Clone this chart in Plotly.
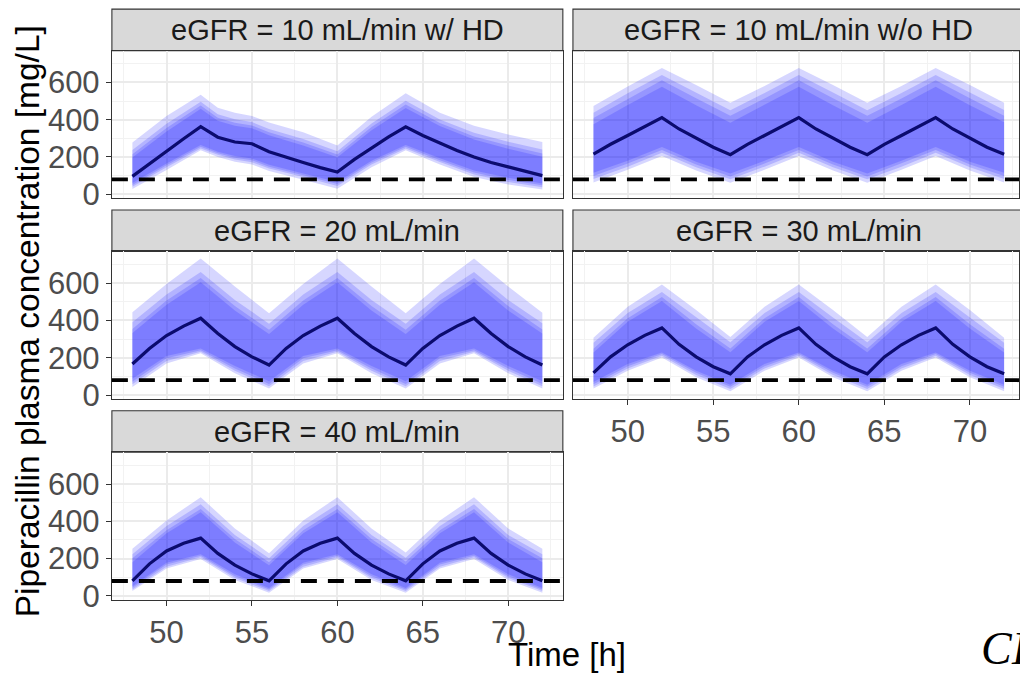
import plotly.graph_objects as go

# ---------------- data ----------------
panel_titles = ["eGFR = 10 mL/min w/ HD", "eGFR = 10 mL/min w/o HD",
                "eGFR = 20 mL/min", "eGFR = 30 mL/min", "eGFR = 40 mL/min"]
target_conc = 80  # mg/L dashed reference line

time_hourly = list(range(48, 73))
time_hd = [48, 50, 52, 53, 54, 55, 56, 58, 60, 62, 64, 66, 68, 70, 72]
time_std = [48, 50, 52, 54, 56, 58, 60, 62, 64, 66, 68, 70, 72]

# medians (hourly, 48..72 h)
hd_med = [96, 165, 229, 298, 362, 306, 280, 271, 228, 198, 170, 143, 119,
          187, 250, 308, 362, 315, 275, 235, 200, 170, 147, 122, 100]
nohd_med = [215, 268, 315, 365, 411, 350, 300, 252, 212, 268, 315, 365, 411,
            350, 300, 252, 212, 268, 315, 365, 411, 350, 300, 252, 215]
e20_med = [167, 250, 319, 370, 412, 330, 260, 205, 161, 250, 319, 370, 412,
           330, 260, 205, 161, 250, 319, 370, 412, 330, 260, 205, 161]
e30_med = [119, 205, 270, 320, 360, 272, 205, 152, 114, 205, 270, 320, 360,
           272, 205, 152, 114, 205, 270, 320, 360, 272, 205, 152, 114]
e40_med = [81, 172, 241, 282, 310, 228, 165, 118, 81, 172, 241, 282, 310,
           228, 165, 118, 81, 172, 241, 282, 310, 228, 165, 118, 81]

# eGFR 10 with HD: prediction bands (outer 1 -> inner 4)
hd_u1 = [277, 420, 534, 464, 437, 420, 385, 332, 262, 416, 542, 437, 367, 320, 280]
hd_u2 = [237, 378, 496, 429, 402, 387, 350, 296, 231, 379, 502, 401, 330, 282, 240]
hd_u3 = [215, 355, 476, 410, 384, 369, 332, 277, 213, 360, 481, 382, 310, 261, 219]
hd_u4 = [197, 336, 458, 394, 368, 354, 316, 261, 199, 343, 463, 366, 294, 244, 201]
hd_l4 = [60, 165, 264, 228, 205, 192, 158, 112, 66, 180, 264, 193, 128, 88, 58]
hd_l3 = [50, 155, 255, 220, 196, 182, 148, 102, 55, 170, 255, 183, 117, 77, 48]
hd_l2 = [40, 145, 246, 212, 187, 172, 138, 92, 44, 160, 246, 173, 106, 66, 38]
hd_l1 = [28, 130, 236, 200, 175, 160, 125, 78, 30, 145, 236, 160, 92, 52, 25]

# eGFR 10 without HD
nohd_u1 = [473, 578, 677, 586, 490, 580, 677, 586, 490, 580, 677, 586, 490]
nohd_u2 = [437, 541, 640, 546, 451, 543, 640, 546, 451, 543, 640, 546, 452]
nohd_u3 = [409, 512, 611, 515, 421, 514, 611, 515, 421, 514, 611, 515, 421]
nohd_u4 = [375, 478, 576, 477, 384, 479, 576, 477, 384, 479, 576, 477, 386]
nohd_l4 = [115, 180, 254, 175, 112, 180, 254, 175, 112, 180, 254, 175, 115]
nohd_l3 = [98, 165, 238, 160, 95, 165, 238, 160, 95, 165, 238, 160, 98]
nohd_l2 = [82, 148, 222, 145, 80, 148, 222, 145, 80, 148, 222, 145, 82]
nohd_l1 = [63, 131, 205, 128, 62, 131, 205, 128, 62, 131, 205, 128, 63]

# eGFR 20
e20_u1 = [444, 596, 733, 582, 439, 596, 733, 582, 439, 596, 733, 582, 442]
e20_u2 = [390, 540, 660, 510, 383, 540, 660, 510, 383, 540, 660, 510, 385]
e20_u3 = [355, 507, 628, 478, 350, 507, 628, 478, 350, 507, 628, 478, 352]
e20_u4 = [333, 485, 605, 453, 328, 485, 605, 453, 328, 485, 605, 453, 330]
e20_l4 = [88, 210, 250, 156, 74, 210, 250, 156, 74, 210, 250, 156, 74]
e20_l3 = [72, 197, 241, 143, 60, 197, 241, 143, 60, 197, 241, 143, 60]
e20_l2 = [58, 183, 233, 130, 48, 183, 233, 130, 48, 183, 233, 130, 48]
e20_l1 = [44, 170, 225, 117, 35, 170, 225, 117, 35, 170, 225, 117, 35]

# eGFR 30
e30_u1 = [307, 474, 593, 456, 311, 474, 593, 456, 311, 474, 593, 456, 307]
e30_u2 = [281, 440, 553, 416, 283, 440, 553, 416, 283, 440, 553, 416, 281]
e30_u3 = [249, 412, 526, 380, 250, 412, 526, 380, 250, 412, 526, 380, 249]
e30_u4 = [228, 393, 505, 357, 230, 393, 505, 357, 230, 393, 505, 357, 228]
e30_l4 = [70, 167, 228, 131, 56, 167, 228, 131, 56, 167, 228, 131, 56]
e30_l3 = [58, 155, 220, 120, 45, 155, 220, 120, 45, 155, 220, 120, 45]
e30_l2 = [46, 143, 211, 108, 33, 143, 211, 108, 33, 143, 211, 108, 33]
e30_l1 = [35, 131, 202, 96, 21, 131, 202, 96, 21, 131, 202, 96, 21]

# eGFR 40
e40_u1 = [253, 405, 529, 362, 229, 405, 529, 362, 233, 405, 529, 362, 253]
e40_u2 = [224, 375, 491, 327, 202, 375, 491, 327, 205, 375, 491, 327, 224]
e40_u3 = [202, 352, 466, 305, 181, 352, 466, 305, 184, 352, 466, 305, 202]
e40_u4 = [181, 336, 448, 287, 164, 336, 448, 287, 166, 336, 448, 287, 181]
e40_l4 = [52, 178, 224, 116, 43, 178, 224, 116, 43, 178, 224, 116, 43]
e40_l3 = [44, 168, 216, 106, 35, 168, 216, 106, 35, 168, 216, 106, 35]
e40_l2 = [35, 157, 207, 96, 26, 157, 207, 96, 26, 157, 207, 96, 26]
e40_l1 = [26, 147, 198, 86, 17, 147, 198, 86, 17, 147, 198, 86, 17]

x_ticks = [50, 55, 60, 65, 70]
y_ticks = [0, 200, 400, 600]

panels = [
    (time_hd, hd_med, [(hd_l1, hd_u1), (hd_l2, hd_u2), (hd_l3, hd_u3), (hd_l4, hd_u4)]),
    (time_std, nohd_med, [(nohd_l1, nohd_u1), (nohd_l2, nohd_u2), (nohd_l3, nohd_u3), (nohd_l4, nohd_u4)]),
    (time_std, e20_med, [(e20_l1, e20_u1), (e20_l2, e20_u2), (e20_l3, e20_u3), (e20_l4, e20_u4)]),
    (time_std, e30_med, [(e30_l1, e30_u1), (e30_l2, e30_u2), (e30_l3, e30_u3), (e30_l4, e30_u4)]),
    (time_std, e40_med, [(e40_l1, e40_u1), (e40_l2, e40_u2), (e40_l3, e40_u3), (e40_l4, e40_u4)]),
]

# ---------------- layout geometry (pixels) ----------------
W, H = 1020, 688
col_x = [(112, 563.4), (573.5, 1020)]
row_panel = [(51.7, 202.3), (256.7, 407.3), (461.7, 612.3)]
strip_h = 42.4
pos = [(0, 0), (0, 1), (1, 0), (1, 1), (2, 0)]  # (row, col)
x_range_left = [46.8, 73.2]
x_range_right = [46.8, 72.87]
y_range = [-21, 770]


def px(x):
    return x / W


def py(y):
    return 1 - y / H


FONT = "Liberation Sans, Arial, sans-serif"
band_fill = "rgba(0,0,255,0.16)"
median_col = "#0b0b6e"

fig = go.Figure()
layout = dict(
    width=W, height=H, margin=dict(l=0, r=0, t=0, b=0),
    paper_bgcolor="white", plot_bgcolor="white", showlegend=False,
    font=dict(family=FONT),
)
shapes = []
annotations = []

for i, (tt, med, bands) in enumerate(panels):
    r, c = pos[i]
    k = "" if i == 0 else str(i + 1)
    xa, ya = "x" + k, "y" + k
    for lo, hi in bands:
        fig.add_trace(go.Scatter(
            x=list(tt) + list(tt)[::-1], y=list(hi) + list(lo)[::-1],
            fill="toself", fillcolor=band_fill, mode="lines",
            line=dict(width=0), hoverinfo="skip", xaxis=xa, yaxis=ya))
    fig.add_trace(go.Scatter(x=time_hourly, y=med, mode="lines",
                             line=dict(color=median_col, width=3.2),
                             xaxis=xa, yaxis=ya))
    x0, x1 = col_x[c]
    ytop, ybot = row_panel[r]
    show_xlab = (r == 2) or (r == 1 and c == 1)
    show_ylab = (c == 0)
    layout["xaxis" + k] = dict(
        domain=[px(x0), min(px(x1), 1.0)], anchor=ya,
        range=x_range_left if c == 0 else x_range_right,
        tickvals=x_ticks, showticklabels=show_xlab,
        ticks="outside" if show_xlab else "", ticklen=5, tickwidth=1.1, tickcolor="#333333",
        tickfont=dict(size=31, color="#4d4d4d", family=FONT),
        showgrid=True, gridcolor="#ebebeb", gridwidth=1.6,
        minor=dict(dtick=2.5, tick0=47.5, showgrid=True, gridcolor="#f2f2f2", gridwidth=0.9),
        showline=True, mirror=True, linecolor="#333333", linewidth=1.1,
        zeroline=False, fixedrange=True,
    )
    layout["yaxis" + k] = dict(
        domain=[py(ybot), py(ytop)], anchor=xa,
        range=y_range, tickvals=y_ticks, showticklabels=show_ylab,
        ticks="outside" if show_ylab else "", ticklen=5, tickwidth=1.1, tickcolor="#333333",
        tickfont=dict(size=31, color="#4d4d4d", family=FONT),
        showgrid=True, gridcolor="#ebebeb", gridwidth=1.6,
        minor=dict(dtick=200, tick0=100, showgrid=True, gridcolor="#f2f2f2", gridwidth=0.9),
        showline=True, mirror=True, linecolor="#333333", linewidth=1.1,
        zeroline=False, fixedrange=True,
    )
    # dashed target line
    shapes.append(dict(type="line", xref=xa + " domain", yref=ya,
                       x0=0, x1=1, y0=target_conc, y1=target_conc,
                       line=dict(color="black", width=3.8, dash="16px,11px"), layer="above"))
    # strip
    shapes.append(dict(type="rect", xref="paper", yref="paper",
                       x0=px(x0), x1=px(x1 + 6) if c == 1 else px(x1),
                       y0=py(ytop), y1=py(ytop - strip_h),
                       fillcolor="#d9d9d9", line=dict(color="#333333", width=1.1), layer="below"))
    annotations.append(dict(text=panel_titles[i], xref="paper", yref="paper",
                            x=px((x0 + (x1 if c == 0 else 1025.7)) / 2),
                            y=py(ytop - strip_h / 2),
                            showarrow=False, xanchor="center", yanchor="middle",
                            font=dict(size=29, color="#1a1a1a", family=FONT)))

annotations.append(dict(text="Time [h]", xref="paper", yref="paper",
                        x=px(568), y=py(668), showarrow=False,
                        xanchor="center", yanchor="middle",
                        font=dict(size=33, color="black", family=FONT)))
annotations.append(dict(text="Piperacillin plasma concentration [mg/L]", xref="paper", yref="paper",
                        x=px(27), y=py(328), showarrow=False, textangle=-90,
                        xanchor="center", yanchor="middle",
                        font=dict(size=33.5, color="black", family=FONT)))
annotations.append(dict(text="<i>CI</i>", xref="paper", yref="paper",
                        x=px(980), y=py(662), showarrow=False,
                        xanchor="left", yanchor="middle",
                        font=dict(size=46, color="black", family="Liberation Serif, DejaVu Serif, serif")))

layout["shapes"] = shapes
layout["annotations"] = annotations
fig.update_layout(**layout)
fig.write_html(
    "out.html",
    config={"displayModeBar": False},
    post_script="document.body.style.margin='0';document.body.style.overflow='hidden';",
)
